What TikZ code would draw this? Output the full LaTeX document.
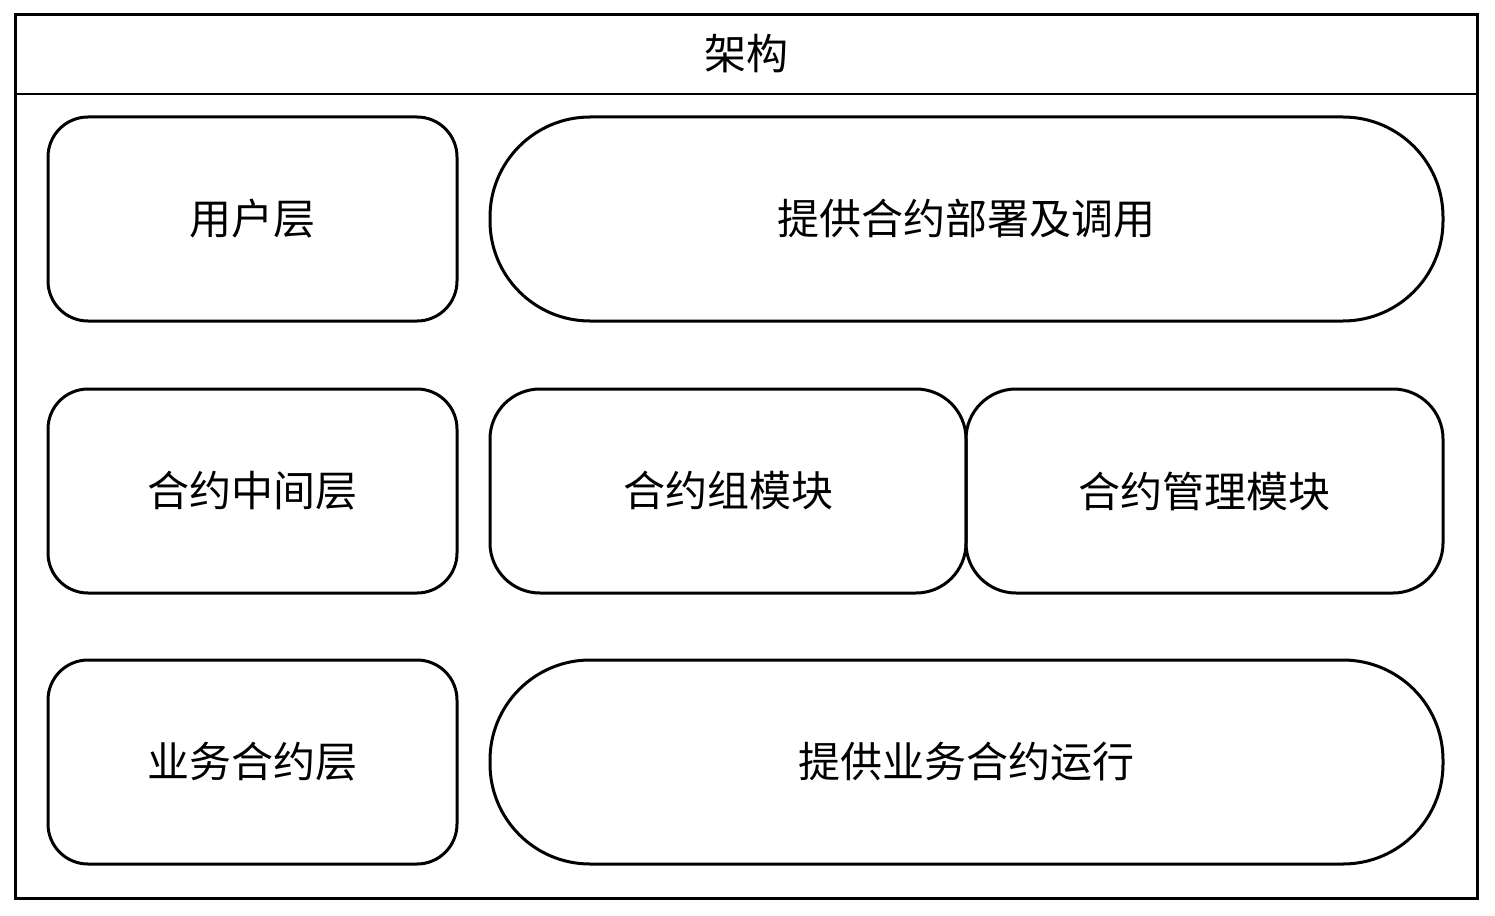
\documentclass[tikz,border=0pt]{standalone}
\usepackage{fontspec}
\newfontfamily\cjk{Noto Sans CJK SC}
\begin{document}
\begin{tikzpicture}[x=1pt,y=-1pt,
  box/.style={draw,line width=3pt,rounded corners=#1,inner sep=0pt,outer sep=0pt,font=\cjk\fontsize{42}{48}\selectfont},
  box/.default=40pt]
\useasboundingbox (0,0) rectangle (1495,915);
\node[draw,line width=3pt,minimum width=1462pt,minimum height=883pt,inner sep=0pt] (outer) at (746,456.5) {};
\draw[line width=2.5pt] (15,94) -- (1477,94);
\node[font=\cjk\fontsize{42}{48}\selectfont] (title) at (746,54) {架构};
\node[box,minimum width=409pt,minimum height=204pt] (u) at (252.5,219) {用户层};
\node[box=100pt,minimum width=953pt,minimum height=204pt] (u2) at (966.5,219) {提供合约部署及调用};
\node[box,minimum width=409pt,minimum height=204pt] (m) at (252.5,491) {合约中间层};
\node[box=50pt,minimum width=476pt,minimum height=204pt] (m2) at (728,491) {合约组模块};
\node[box=50pt,minimum width=477pt,minimum height=204pt] (m3) at (1204.5,491) {合约管理模块};
\node[box,minimum width=409pt,minimum height=204pt] (b) at (252.5,762) {业务合约层};
\node[box=100pt,minimum width=953pt,minimum height=204pt] (b2) at (966.5,762) {提供业务合约运行};
\end{tikzpicture}
\end{document}
